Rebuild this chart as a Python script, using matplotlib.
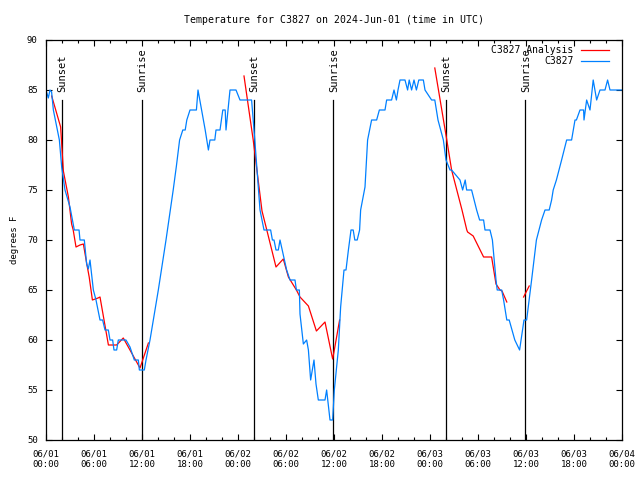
import numpy as np
import pandas as pd
import matplotlib
matplotlib.use("Agg")
import matplotlib.pyplot as plt
import matplotlib.dates as mdates

# hours since 2024-06-01 00:00 UTC and temperature (F) for station C3827
obs_hours = [0.0, 0.29, 0.5, 0.7, 0.92, 1.67, 1.96, 2.375, 3.0, 3.54, 4.13, 4.25, 4.79,
             5.08, 5.29, 5.5, 5.92, 6.25, 6.75, 7.08, 7.375, 7.79, 8.0, 8.33, 8.5, 8.83,
             9.04, 10.0, 10.5, 11.04, 11.54, 11.67, 12.29, 12.5, 13.0, 14.04, 15.0, 15.9,
             16.3, 16.7, 17.1, 17.4, 17.6, 18.0, 18.8, 19.0, 19.9, 20.3, 20.5, 21.1, 21.25,
             21.75, 22.1, 22.4, 22.5, 23.0, 23.75, 24.25, 25.7, 26.1, 26.75, 27.25, 28.08,
             28.3, 28.5, 28.75, 29.04, 29.25, 30.08, 30.5, 31.125, 31.3, 31.67, 31.75, 32.17,
             32.58, 32.8, 33.08, 33.5, 33.75, 34.04, 34.875, 35.08, 35.5, 35.83, 36.04, 36.54,
             36.83, 37.25, 37.5, 37.8, 38.125, 38.4, 38.6, 38.9, 39.2, 39.33, 39.875, 40.2,
             40.7, 41.33, 41.67, 42.375, 42.58, 43.2, 43.5, 43.8, 44.0, 44.25, 44.875, 45.2,
             45.4, 45.7, 46.0, 46.3, 46.6, 47.17, 47.375, 48.2, 48.6, 49.0, 49.67, 50.0, 50.5,
             50.7, 51.75, 52.08, 52.4, 52.58, 53.2, 53.83, 54.2, 54.7, 54.875, 55.5, 55.8,
             56.25, 56.4, 56.96, 57.2, 57.6, 57.9, 58.6, 59.2, 59.75, 60.08, 60.7, 61.3, 61.95,
             62.375, 62.9, 63.2, 63.4, 63.8, 64.45, 65.08, 65.7, 66.125, 66.3, 66.75, 67.2,
             67.25, 67.58, 68.0, 68.4, 68.83, 69.25, 69.875, 70.2, 70.5, 72.0]
obs_temp = [85, 84.2, 85, 84.8, 83, 80, 77.3, 75, 73.3, 71, 71, 70, 70,
            67.6, 67.1, 68, 65, 64, 62, 62, 61, 61, 60, 60, 59, 59,
            60, 60, 59.3, 58, 58, 57, 57, 58, 60, 65, 70, 75,
            77.4, 80, 81, 81, 82, 83, 83, 85, 81, 79, 80, 80, 81,
            81, 83, 83, 81, 85, 85, 84, 84, 80, 73, 71, 71,
            70, 70, 69, 69, 70, 67, 66, 66, 65, 65, 62.6, 59.6,
            60, 59, 56, 58, 55.6, 54, 54, 55, 52, 52, 55, 59,
            63.3, 67, 67, 69, 71, 71, 70, 70, 71, 73, 75.3, 80,
            82, 82, 83, 83, 84, 84, 85, 84, 85, 86, 86, 85,
            86, 85, 86, 85, 86, 86, 85, 84, 84, 82, 80, 78, 77,
            77, 76, 75, 76, 75, 75, 73, 72, 72, 71, 71, 70,
            66, 65, 65, 64, 62, 62, 60, 59, 62, 62, 66, 70, 72,
            73, 73, 74, 75, 76, 78, 80, 80, 82, 82, 83, 83,
            82, 84, 83, 86, 84, 85, 85, 86, 85, 85]

# analysis series, NaN marks the gaps between pieces
ana_hours = [0.71, 1.83, 2.17, 2.8, 3.2, 3.4, 3.75, 4.25, 4.67, 4.8, 5.1, 5.4, 5.8, 6.5,
             6.75, 7.8, 8.83, 9.66, 11.75, 12.8, 12.9,
             24.75, 25.9, 27.0, 27.6, 28.75, 29.66, 30.3, 31.3, 31.75, 32.8, 33.8, 34.875,
             35.83, 36.04, 36.7, 36.8,
             48.6, 50.1, 50.7, 52.0, 52.6, 52.7, 53.4, 54.7, 55.7, 56.25, 56.75, 57.0, 57.6,
             57.7, 59.7, 60.4]
ana_temp = [84.4, 81.3, 76.9, 74.3, 71.6, 71, 69.3, 69.5, 69.6, 69, 67.6, 66.3, 64.0, 64.2,
            64.3, 59.5, 59.5, 60.2, 57.2, 59.7, np.nan,
            86.4, 80, 72.9, 71, 67.3, 68.1, 66.3, 65, 64.3, 63.4, 60.9, 61.8,
            58.1, 59, 62, np.nan,
            87.2, 80, 77, 73, 71, 70.8, 70.4, 68.3, 68.3, 65.6, 65, 64.9, 63.8,
            np.nan, 64.3, 65.4]

sun_hours = [2.03, 12.03, 26.03, 35.93, 50.03, 59.93]
sun_labels = ["Sunset", "Sunrise", "Sunset", "Sunrise", "Sunset", "Sunrise"]

base = pd.Timestamp("2024-06-01 00:00")
obs_t = base + pd.to_timedelta(obs_hours, unit="h")
ana_t = base + pd.to_timedelta(ana_hours, unit="h")
sun_t = base + pd.to_timedelta(sun_hours, unit="h")

plt.rcParams["font.family"] = ["DejaVu Sans Mono"]
plt.rcParams["font.size"] = 6.5

fig = plt.figure(figsize=(6.4, 4.8), dpi=100)
ax = fig.add_axes([46 / 640, 1 - 440 / 480, 576 / 640, 400 / 480])

for t, lab in zip(sun_t, sun_labels):
    ax.plot([t, t], [50, 84], color="black", lw=0.9)
    ax.text(t + pd.Timedelta(minutes=3), 84.75, lab, rotation=90, ha="center", va="bottom",
            fontsize=7.5)

ax.plot(ana_t, ana_temp, color="#ff0000", lw=0.9, label="C3827 Analysis")
ax.plot(obs_t, obs_temp, color="#0080ff", lw=0.9, label="C3827")

ax.set_xlim(base, base + pd.Timedelta(hours=72))
ax.set_ylim(50, 90)
ax.set_yticks(range(50, 91, 5))
ax.xaxis.set_major_locator(mdates.HourLocator(byhour=[0, 6, 12, 18]))
ax.xaxis.set_minor_locator(mdates.HourLocator(byhour=range(0, 24, 2)))
ax.xaxis.set_major_formatter(mdates.DateFormatter("%m/%d\n%H:%M"))
ax.tick_params(which="both", direction="in", top=True, right=True)
ax.tick_params(which="major", length=4, width=0.8)
ax.tick_params(which="minor", length=2, width=0.8)
ax.tick_params(axis="x", pad=7)
ax.tick_params(axis="y", pad=6)
for s in ax.spines.values():
    s.set_linewidth(0.9)

ax.set_ylabel("degrees F", labelpad=6)
ax.set_title("Temperature for C3827 on 2024-Jun-01 (time in UTC)", pad=12, fontsize=7.1)
ax.legend(loc="upper right", bbox_to_anchor=(0.977, 0.987), frameon=False,
          markerfirst=False, handlelength=2.9, handletextpad=0.72, labelspacing=0.12,
          borderaxespad=0, borderpad=0, fontsize=7)

fig.savefig("out.png", dpi=100)
